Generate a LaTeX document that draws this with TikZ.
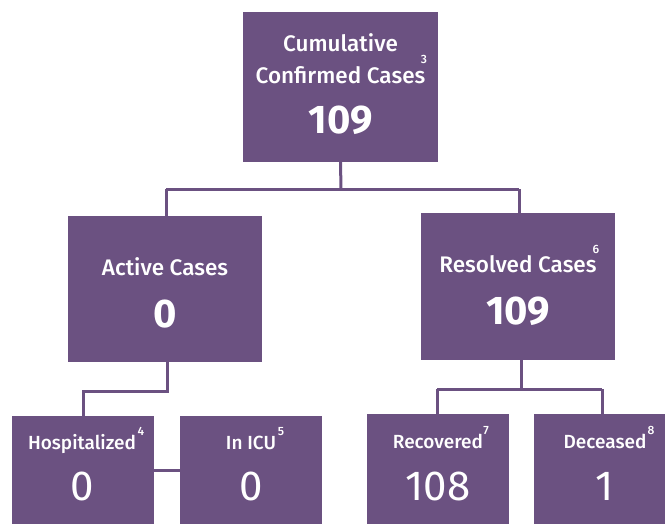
\documentclass[tikz,border=0pt]{standalone}
\usepackage{fontspec}
\setmainfont{Fira Sans}
\newfontfamily\lblfont{Fira Sans Medium}
\definecolor{plum}{HTML}{6B5181}
\begin{document}
\begin{tikzpicture}[x=1pt,y=-1pt,
  box/.style={fill=plum,draw=none,inner sep=0pt},
  lbl/.style={text=white,font=\fontsize{19}{20}\lblfont,inner sep=0pt,anchor=base},
  hlbl/.style={text=white,font=\fontsize{22.5}{24}\lblfont,inner sep=0pt,anchor=base},
  big/.style={text=white,font=\fontsize{40}{44}\selectfont\bfseries,inner sep=0pt,anchor=base},
  num/.style={text=white,font=\fontsize{42}{46}\selectfont,inner sep=0pt,anchor=base},
  sup/.style={text=white,font=\fontsize{12}{13}\lblfont,inner sep=0pt,anchor=base},
  link/.style={draw=plum,line width=3pt}]
\useasboundingbox (0,0) rectangle (665,523);
% boxes
\node[box,minimum width=195,minimum height=150] (top) at (340.5,87) {};
\node[box,minimum width=194,minimum height=146] (active) at (165,289) {};
\node[box,minimum width=194,minimum height=147] (resolved) at (518,286.5) {};
\node[box,minimum width=142,minimum height=124] (hosp) at (83,478) {};
\node[box,minimum width=142,minimum height=124] (icu) at (251,478) {};
\node[box,minimum width=142,minimum height=126] (recov) at (438,477) {};
\node[box,minimum width=142,minimum height=126] (dec) at (605,477) {};
% texts
\node[hlbl] (t1) at (340.5,51) {Cumulative};
\node[hlbl] (t2) at (340.5,83) {Confirmed Cases};
\node[sup] (t3) at (424,63) {3};
\node[big] (t4) at (340.5,133) {109};
\node[hlbl] (a1) at (165,275) {Active Cases};
\node[big] (a2) at (165,327) {0};
\node[hlbl] (r1) at (518,272) {Resolved Cases};
\node[sup] (r2) at (596,253) {6};
\node[big] (r3) at (518,324) {109};
\node[lbl] (h1) at (82,449) {Hospitalized};
\node[sup] (h2) at (141,435) {4};
\node[num] (h3) at (82,500) {0};
\node[lbl] (i1) at (251,449) {In ICU};
\node[sup] (i2) at (281,435) {5};
\node[num] (i3) at (251,500) {0};
\node[lbl] (v1) at (438,448) {Recovered};
\node[sup] (v2) at (486,434) {7};
\node[num] (v3) at (438,500) {108};
\node[lbl] (d1) at (605,448) {Deceased};
\node[sup] (d2) at (651,434) {8};
\node[num] (d3) at (605,500) {1};
% connectors
\coordinate (j1) at (341,189);
\draw[link] (top.south) -- (j1);
\draw[link] (166,189) -- (519,189);
\draw[link] (166,189) -- (active.north -| 166,0);
\draw[link] (519,189) -- (resolved.north -| 519,0);
\coordinate (j2) at (167,391);
\draw[link] (active.south -| 167,0) -- (j2) -- (83,391) -- (hosp.north -| 83,0);
\draw[link] (hosp.east |- 0,470) -- (icu.west |- 0,470);
\coordinate (j3) at (521,389);
\draw[link] (resolved.south -| 521,0) -- (j3);
\draw[link] (437,389) -- (602,389);
\draw[link] (437,389) -- (recov.north -| 437,0);
\draw[link] (602,389) -- (dec.north -| 602,0);
\end{tikzpicture}
\end{document}
